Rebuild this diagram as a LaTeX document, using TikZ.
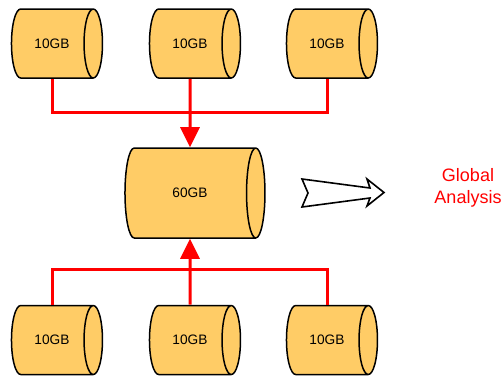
\documentclass[tikz,border=0pt]{standalone}
\usepackage{fontspec}
\setmainfont{Liberation Sans}
\usetikzlibrary{shapes.geometric,arrows.meta}
\definecolor{diskfill}{RGB}{255,204,102}

\tikzset{
  disk/.style={cylinder, draw=black, line width=1.5pt, fill=diskfill,
    shape aspect=1.9, minimum height=91pt, minimum width=69pt, inner sep=0pt,
    font=\fontsize{13.7}{16}\selectfont},
  bigdisk/.style={disk, minimum height=140pt, minimum width=90pt},
  feed/.style={red, line width=3pt},
  feedarrow/.style={feed, -{Triangle[length=20pt,width=19pt]}},
}

\begin{document}
\begin{tikzpicture}[x=1pt,y=-1pt]
  \useasboundingbox (0,0) rectangle (504,376);

  % the merged store in the middle
  \node[bigdisk] (big) at (190,193) {60GB};

  % small stores, top and bottom rows
  \node[disk] (t1) at (52,43.5) {10GB};
  \node[disk] (t2) at (190,43.5) {10GB};
  \node[disk] (t3) at (327,43.5) {10GB};
  \node[disk] (b1) at (52,340) {10GB};
  \node[disk] (b2) at (190,340) {10GB};
  \node[disk] (b3) at (327,340) {10GB};

  \coordinate (topjoin) at (190,112.5);
  \coordinate (botjoin) at (190,269);

  \draw[feed] (t1.south) |- (topjoin) -| (t3.south);
  \draw[feedarrow] (t2.south) -- (big.north);
  \draw[feed] (b1.north) |- (botjoin) -| (b3.north);
  \draw[feedarrow] (b2.north) -- (big.south);

  % hollow arrow to the analysis step
  \draw[line width=1.6pt, fill=white, line join=miter]
    (302,179) -- (370,188) -- (367,179) -- (384,192.5) -- (367,206)
    -- (370,198) -- (302,207) -- (308,193) -- cycle;
  \node[text=red, align=center, font=\fontsize{18}{22}\selectfont]
    (global) at (468,188) {Global\\Analysis};
\end{tikzpicture}
\end{document}
